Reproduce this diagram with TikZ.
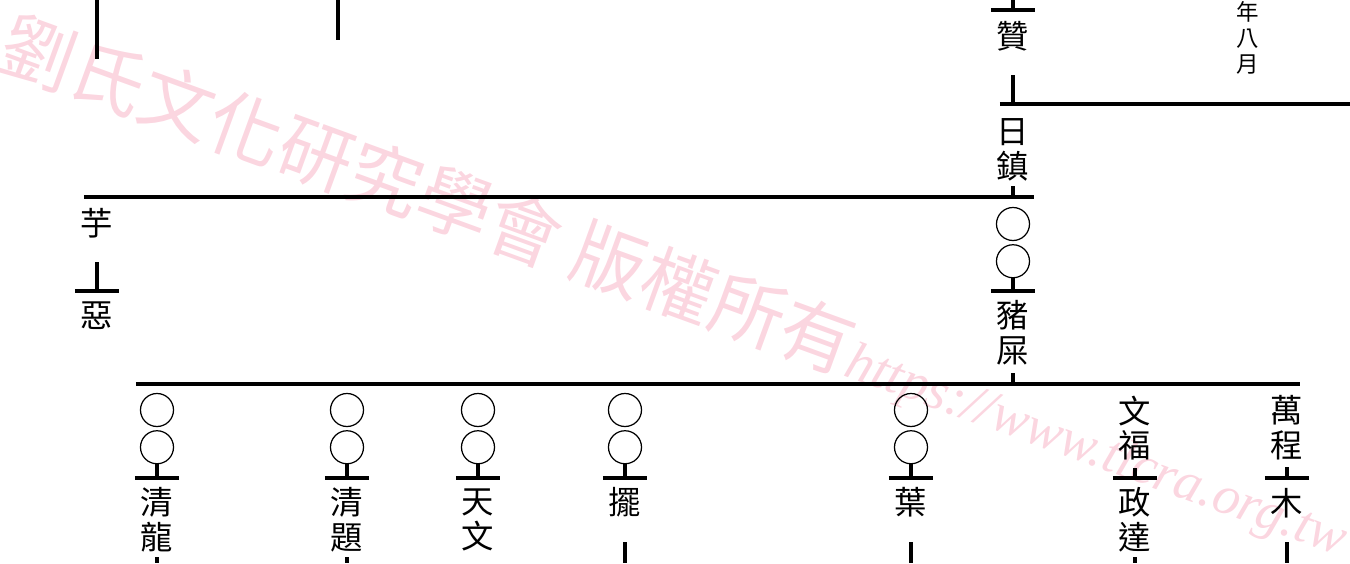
\documentclass[tikz,border=0pt]{standalone}
\usepackage{fontspec}
\setmainfont{Liberation Serif}
\newfontfamily\cjk{Noto Sans CJK TC}
\usetikzlibrary{positioning}

\definecolor{wmpink}{RGB}{251,214,224}

\tikzset{
  gen/.style={line width=1.1pt},
  person/.style={font=\cjk\fontsize{9.2}{9.9}\selectfont, align=center, inner sep=0pt},
  dateline/.style={font=\cjk\fontsize{6.4}{7.4}\selectfont, align=center, inner sep=0pt},
  blank/.style={circle, draw, line width=0.35pt, minimum size=0.33cm, inner sep=0pt},
}
% short bar under one parent
\newcommand{\tee}[1]{\draw[gen] ([xshift=-0.22cm]#1) -- ([xshift=0.22cm]#1);}

\begin{document}
\begin{tikzpicture}[x=0.01cm, y=-0.01cm]
  \useasboundingbox (0,0) rectangle (1350,563);
  % Watermark
  \node[rotate=-20, anchor=base west, inner sep=0pt, text=wmpink] (mark) at (-6,66)
  {{\cjk\fontsize{21}{21}\selectfont 劉氏文化研究學會 版權所有}{\itshape\fontsize{15.5}{15.5}\selectfont https://www.tlcra.org.tw}};
  % Row levels
  \coordinate (rowA) at (0,104);
  \coordinate (rowB) at (0,197);
  \coordinate (rowC) at (0,291);
  \coordinate (rowD) at (0,384);
  \coordinate (rowE) at (0,478);
  \coordinate (rowF) at (0,563);
  \coordinate (edgeR) at (1350,0);
  % Lines from above
  \coordinate (offA) at (97,0);
  \coordinate (offB) at (338,0);
  \draw[gen] (offA) -- ++(0,59);
  \draw[gen] (offB) -- ++(0,40);
  % Date
  \node[dateline] (date) at (1248,38) {年\\八\\月};
  % Zan
  \coordinate (zantop) at (1013,10);
  \draw[gen] (zantop) -- ++(0,-10);
  \tee{zantop}
  \node[person] (zan) at (1013,36) {贊};
  \draw[gen] (zan) ++(0,39) -- (zan |- rowA);
  \draw[gen] ([xshift=-0.13cm]zan |- rowA) -- (edgeR |- rowA);
  % Rizhen
  \node[person] (rizhen) at (1013,150) {日\\鎮};
  \draw[gen] (rizhen) ++(0,36) -- (rizhen |- rowB);
  % Sons of Rizhen
  \node[person] (yu) at (97,223) {芋};
  \node[blank] (bkA) at (1013,224) {};
  \node[blank, below=0.03cm of bkA] (bkB) {};
  \draw[gen] ([xshift=-0.13cm]yu |- rowB) -- ([xshift=0.21cm]bkA |- rowB);
  \draw[gen] (yu) ++(0,39) -- (yu |- rowC);
  \tee{yu |- rowC}
  \node[person] (e) at (97,316) {惡};
  \draw[gen] (bkB.south) -- (bkB |- rowC);
  \tee{bkB |- rowC}
  \node[person] (zhushi) at (1013,333) {豬\\屎};
  \draw[gen] (zhushi) ++(0,40) -- (zhushi |- rowD);
  % Sons of Zhushi
  \foreach \x/\n in {157/qa, 347/qb, 478/qc, 625/qd, 911/qe}{
    \node[blank] (\n1) at (\x,410) {};
    \node[blank, below=0.03cm of \n1] (\n2) {};
    \draw[gen] (\n2.south) -- (\n2 |- rowE);
    \tee{\n2 |- rowE}
  }
  \node[person] (wenfu) at (1135,428) {文\\福};
  \node[person] (wancheng) at (1287,428) {萬\\程};
  \draw[gen] ([xshift=-0.21cm]qa1 |- rowD) -- ([xshift=0.13cm]wancheng |- rowD);
  \draw[gen] (wenfu) ++(0,40) -- (wenfu |- rowE);
  \tee{wenfu |- rowE}
  \draw[gen] (wancheng) ++(0,39) -- (wancheng |- rowE);
  \tee{wancheng |- rowE}
  % Grandsons
  \node[person] (qinglong) at (157,520) {清\\龍};
  \node[person] (qingti) at (347,520) {清\\題};
  \node[person] (tianwen) at (478,520) {天\\文};
  \node[person] (bai) at (625,502) {擺};
  \node[person] (ye) at (911,502) {葉};
  \node[person] (zhengda) at (1135,520) {政\\達};
  \node[person] (mu) at (1287,503) {木};
  \draw[gen] (qinglong) ++(0,37) -- (qinglong |- rowF);
  \draw[gen] (qingti) ++(0,37) -- (qingti |- rowF);
  \draw[gen] (zhengda) ++(0,37) -- (zhengda |- rowF);
  \draw[gen] (bai) ++(0,40) -- (bai |- rowF);
  \draw[gen] (ye) ++(0,40) -- (ye |- rowF);
  \draw[gen] (mu) ++(0,39) -- (mu |- rowF);
\end{tikzpicture}
\end{document}
